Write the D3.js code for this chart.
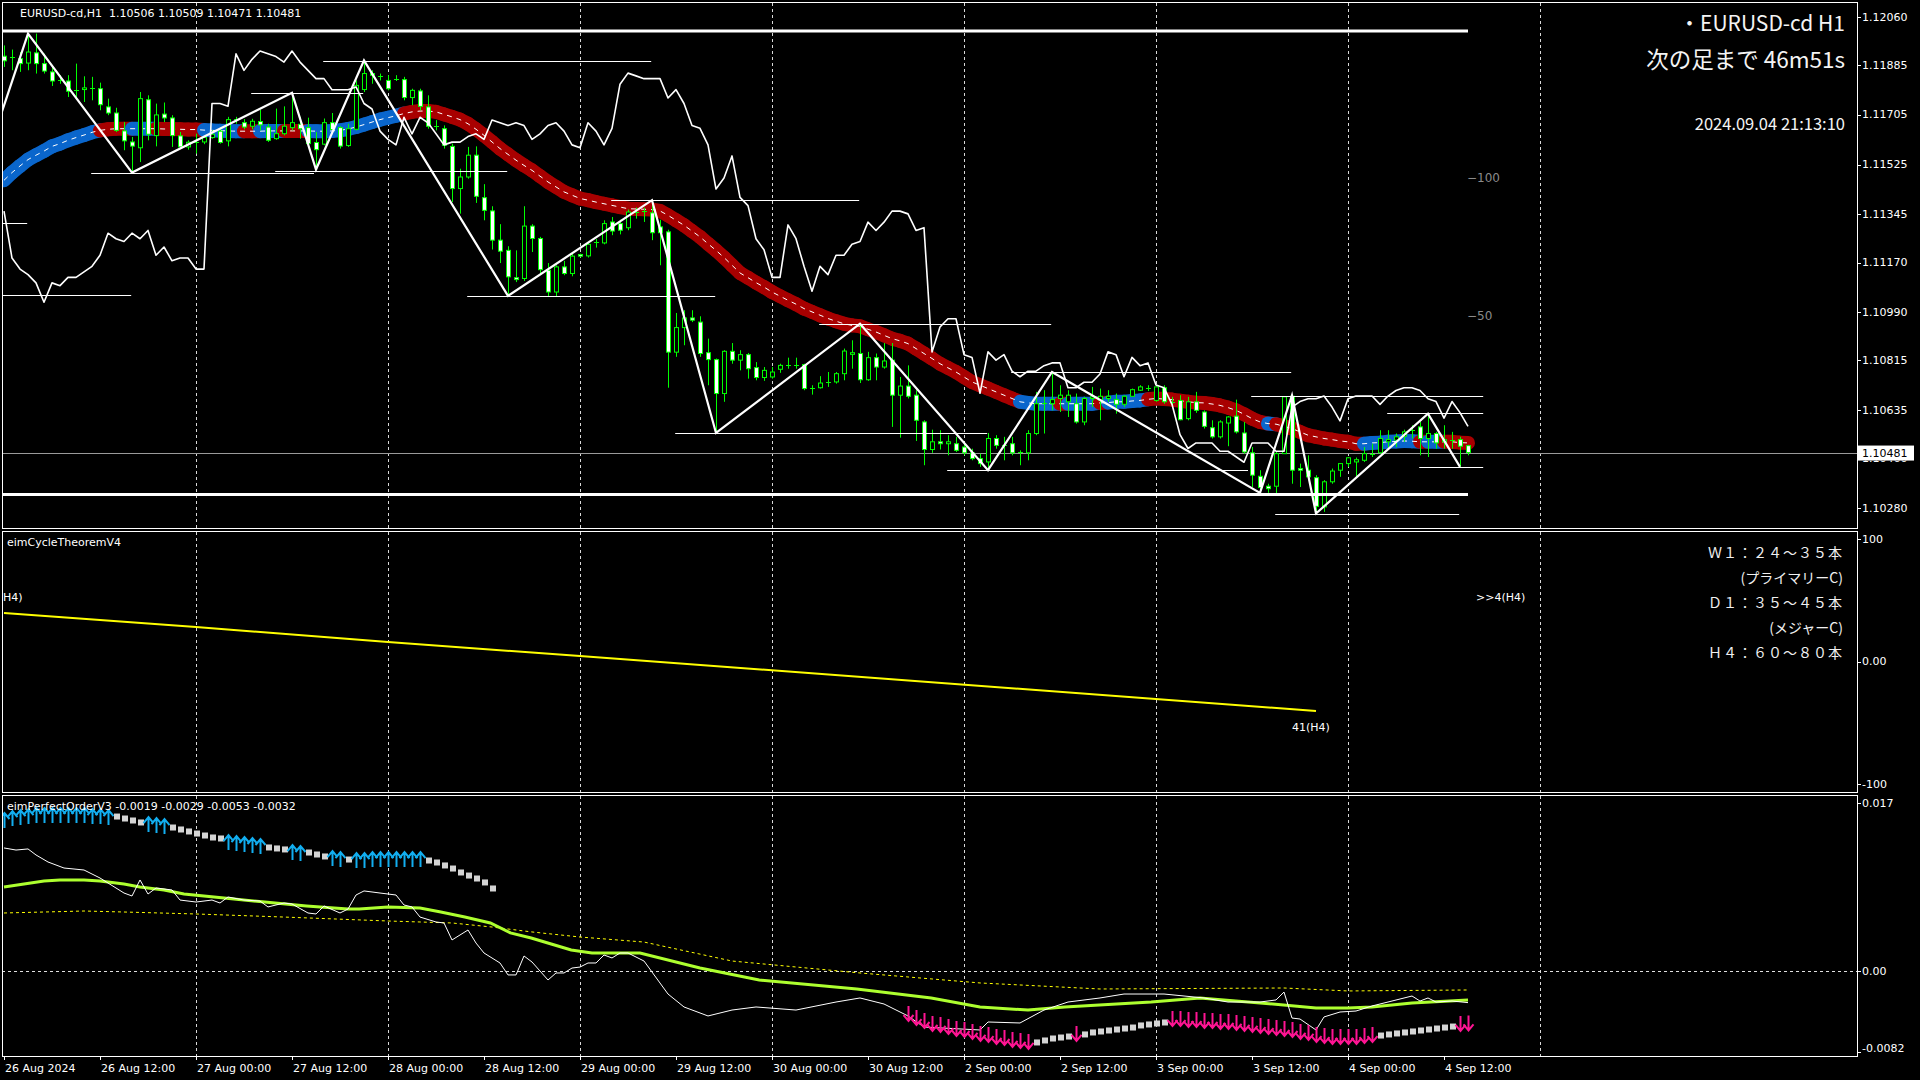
<!DOCTYPE html>
<html><head><meta charset="utf-8">
<script src="https://cdn.jsdelivr.net/npm/d3@7"></script>
<style>body{margin:0;background:#000;overflow:hidden}svg{display:block}</style>
</head><body>
<svg id="c" width="1920" height="1080"></svg>
<script>
// ---------------- DATA ----------------
const headerText = "EURUSD-cd,H1  1.10506 1.10509 1.10471 1.10481";
const priceTicks = [1.12060,1.11885,1.11705,1.11525,1.11345,1.11170,1.10990,1.10815,1.10635,1.10460,1.10280];
const lastPrice = 1.10481;
const timeLabels = [[0,"26 Aug 2024"],[12,"26 Aug 12:00"],[24,"27 Aug 00:00"],[36,"27 Aug 12:00"],[48,"28 Aug 00:00"],[60,"28 Aug 12:00"],[72,"29 Aug 00:00"],[84,"29 Aug 12:00"],[96,"30 Aug 00:00"],[108,"30 Aug 12:00"],[120,"2 Sep 00:00"],[132,"2 Sep 12:00"],[144,"3 Sep 00:00"],[156,"3 Sep 12:00"],[168,"4 Sep 00:00"],[180,"4 Sep 12:00"]];
const gridBars = [24,48,72,96,120,144,168,192];

const open = [1.11918,1.11915,1.11909,1.11893,1.11930,1.11891,1.11861,1.11830,1.11828,1.11792,
1.11797,1.11803,1.11800,1.11734,1.11712,1.11647,1.11607,1.11586,1.11760,1.11630,
1.11708,1.11694,1.11629,1.11589,1.11606,1.11607,1.11623,1.11646,1.11611,1.11688,
1.11677,1.11664,1.11681,1.11661,1.11619,1.11637,1.11659,1.11671,1.11659,1.11605,
1.11599,1.11677,1.11659,1.11594,1.11653,1.11797,1.11855,1.11845,1.11830,1.11835,
1.11833,1.11768,1.11792,1.11734,1.11664,1.11655,1.11591,1.11438,1.11480,1.11559,
1.11405,1.11357,1.11251,1.11214,1.11115,1.11112,1.11302,1.11257,1.11142,1.11063,
1.11154,1.11130,1.11199,1.11194,1.11241,1.11241,1.11317,1.11311,1.11296,1.11353,
1.11353,1.11350,1.11299,1.11281,1.10845,1.10934,1.10969,1.10954,1.10843,1.10818,
1.10695,1.10848,1.10816,1.10836,1.10789,1.10753,1.10755,1.10783,1.10797,1.10797,
1.10800,1.10713,1.10716,1.10733,1.10737,1.10767,1.10837,1.10840,1.10745,1.10825,
1.10791,1.10816,1.10689,1.10722,1.10689,1.10592,1.10492,1.10520,1.10513,1.10513,
1.10501,1.10480,1.10459,1.10447,1.10532,1.10507,1.10513,1.10483,1.10480,1.10550,
1.10658,1.10658,1.10677,1.10665,1.10658,1.10592,1.10677,1.10671,1.10677,1.10673,
1.10656,1.10685,1.10707,1.10715,1.10670,1.10716,1.10665,1.10670,1.10604,1.10665,
1.10628,1.10571,1.10538,1.10588,1.10613,1.10552,1.10480,1.10395,1.10359,1.10359,
1.10477,1.10685,1.10423,1.10417,1.10390,1.10284,1.10375,1.10417,1.10441,1.10447,
1.10453,1.10477,1.10480,1.10520,1.10526,1.10540,1.10559,1.10574,1.10532,1.10550,
1.10520,1.10528,1.10528,1.10506];
const high = [1.11957,1.11942,1.11933,1.12000,1.12000,1.11927,1.11885,1.11849,1.11849,1.11891,
1.11845,1.11843,1.11822,1.11764,1.11731,1.11679,1.11625,1.11788,1.11776,1.11746,
1.11750,1.11704,1.11643,1.11613,1.11637,1.11631,1.11649,1.11661,1.11698,1.11698,
1.11690,1.11691,1.11724,1.11673,1.11728,1.11736,1.11785,1.11698,1.11695,1.11643,
1.11692,1.11712,1.11664,1.11673,1.11830,1.11903,1.11867,1.11855,1.11849,1.11849,
1.11843,1.11800,1.11800,1.11776,1.11686,1.11667,1.11601,1.11510,1.11589,1.11591,
1.11454,1.11374,1.11309,1.11229,1.11214,1.11374,1.11309,1.11263,1.11168,1.11160,
1.11176,1.11202,1.11202,1.11241,1.11255,1.11323,1.11335,1.11325,1.11362,1.11369,
1.11369,1.11396,1.11325,1.11289,1.10987,1.10997,1.10997,1.10975,1.10894,1.10822,
1.10852,1.10878,1.10852,1.10842,1.10809,1.10791,1.10791,1.10803,1.10825,1.10825,
1.10803,1.10725,1.10758,1.10773,1.10773,1.10858,1.10888,1.10948,1.10846,1.10840,
1.10878,1.10878,1.10755,1.10797,1.10707,1.10598,1.10564,1.10562,1.10544,1.10538,
1.10513,1.10495,1.10477,1.10552,1.10544,1.10538,1.10538,1.10489,1.10562,1.10701,
1.10707,1.10773,1.10725,1.10707,1.10695,1.10683,1.10719,1.10713,1.10707,1.10695,
1.10689,1.10713,1.10725,1.10725,1.10721,1.10725,1.10683,1.10689,1.10683,1.10701,
1.10634,1.10598,1.10598,1.10613,1.10673,1.10592,1.10501,1.10417,1.10368,1.10483,
1.10685,1.10689,1.10441,1.10471,1.10399,1.10381,1.10423,1.10443,1.10465,1.10463,
1.10501,1.10513,1.10562,1.10562,1.10550,1.10564,1.10580,1.10592,1.10622,1.10556,
1.10580,1.10556,1.10538,1.10509];
const low = [1.11879,1.11867,1.11861,1.11867,1.11855,1.11855,1.11810,1.11818,1.11770,1.11764,
1.11752,1.11758,1.11722,1.11704,1.11643,1.11577,1.11496,1.11534,1.11613,1.11591,
1.11679,1.11589,1.11583,1.11579,1.11565,1.11599,1.11619,1.11601,1.11591,1.11673,
1.11653,1.11653,1.11649,1.11607,1.11615,1.11631,1.11649,1.11619,1.11589,1.11507,
1.11595,1.11637,1.11583,1.11589,1.11649,1.11788,1.11818,1.11830,1.11794,1.11828,
1.11758,1.11740,1.11722,1.11655,1.11649,1.11583,1.11389,1.11347,1.11474,1.11386,
1.11323,1.11217,1.11168,1.11049,1.11099,1.11103,1.11208,1.11130,1.11045,1.11045,
1.11124,1.11120,1.11188,1.11188,1.11224,1.11236,1.11269,1.11272,1.11287,1.11329,
1.11317,1.11251,1.11160,1.10716,1.10828,1.10870,1.10954,1.10828,1.10725,1.10552,
1.10665,1.10803,1.10779,1.10749,1.10743,1.10741,1.10749,1.10770,1.10785,1.10785,
1.10707,1.10691,1.10713,1.10719,1.10731,1.10743,1.10785,1.10733,1.10741,1.10743,
1.10785,1.10574,1.10535,1.10677,1.10523,1.10435,1.10480,1.10492,1.10471,1.10483,
1.10471,1.10453,1.10429,1.10417,1.10495,1.10453,1.10471,1.10435,1.10453,1.10544,
1.10550,1.10634,1.10628,1.10610,1.10586,1.10580,1.10646,1.10598,1.10665,1.10622,
1.10646,1.10683,1.10704,1.10704,1.10665,1.10658,1.10652,1.10598,1.10598,1.10625,
1.10568,1.10532,1.10532,1.10504,1.10550,1.10477,1.10356,1.10335,1.10335,1.10332,
1.10477,1.10368,1.10356,1.10381,1.10260,1.10266,1.10368,1.10393,1.10429,1.10395,
1.10447,1.10465,1.10477,1.10495,1.10501,1.10520,1.10532,1.10471,1.10465,1.10495,
1.10495,1.10495,1.10429,1.10471];
const close = [1.11901,1.11910,1.11891,1.11933,1.11891,1.11864,1.11828,1.11828,1.11791,1.11795,
1.11803,1.11802,1.11742,1.11712,1.11649,1.11611,1.11592,1.11764,1.11635,1.11705,
1.11694,1.11630,1.11589,1.11606,1.11607,1.11623,1.11635,1.11605,1.11688,1.11690,
1.11661,1.11682,1.11669,1.11613,1.11637,1.11664,1.11677,1.11655,1.11601,1.11579,
1.11677,1.11652,1.11592,1.11655,1.11812,1.11855,1.11849,1.11840,1.11800,1.11834,
1.11768,1.11794,1.11736,1.11664,1.11659,1.11595,1.11438,1.11480,1.11559,1.11410,
1.11359,1.11251,1.11211,1.11118,1.11108,1.11302,1.11257,1.11144,1.11063,1.11154,
1.11130,1.11193,1.11193,1.11236,1.11243,1.11311,1.11284,1.11287,1.11353,1.11352,
1.11355,1.11278,1.11278,1.10845,1.10934,1.10969,1.10961,1.10840,1.10818,1.10695,
1.10848,1.10816,1.10836,1.10785,1.10753,1.10779,1.10773,1.10797,1.10796,1.10800,
1.10713,1.10715,1.10733,1.10737,1.10767,1.10849,1.10843,1.10745,1.10825,1.10791,
1.10813,1.10689,1.10722,1.10685,1.10598,1.10492,1.10520,1.10513,1.10520,1.10489,
1.10480,1.10459,1.10441,1.10532,1.10507,1.10504,1.10480,1.10482,1.10550,1.10658,
1.10661,1.10673,1.10689,1.10689,1.10592,1.10677,1.10683,1.10685,1.10685,1.10656,
1.10685,1.10709,1.10719,1.10716,1.10719,1.10665,1.10664,1.10600,1.10665,1.10634,
1.10576,1.10538,1.10592,1.10610,1.10556,1.10483,1.10399,1.10354,1.10350,1.10477,
1.10683,1.10417,1.10417,1.10393,1.10286,1.10375,1.10414,1.10441,1.10462,1.10455,
1.10477,1.10476,1.10532,1.10528,1.10538,1.10556,1.10564,1.10532,1.10550,1.10516,
1.10528,1.10527,1.10504,1.10481];

// moving average band (centre values) and its trend colouring runs
const maValues = [1.11468,1.11496,1.11520,1.11543,1.11559,1.11574,1.11591,1.11601,1.11613,1.11623,
1.11632,1.11642,1.11649,1.11653,1.11655,1.11655,1.11655,1.11655,1.11655,1.11655,
1.11654,1.11654,1.11653,1.11652,1.11652,1.11650,1.11649,1.11648,1.11647,1.11646,
1.11646,1.11646,1.11646,1.11647,1.11647,1.11647,1.11647,1.11647,1.11647,1.11646,
1.11646,1.11647,1.11649,1.11654,1.11661,1.11670,1.11679,1.11688,1.11695,1.11702,
1.11710,1.11716,1.11719,1.11719,1.11716,1.11707,1.11698,1.11688,1.11673,1.11653,
1.11631,1.11607,1.11583,1.11562,1.11541,1.11522,1.11504,1.11483,1.11462,1.11444,
1.11426,1.11414,1.11402,1.11396,1.11389,1.11383,1.11377,1.11371,1.11365,1.11364,
1.11363,1.11362,1.11357,1.11341,1.11323,1.11305,1.11284,1.11263,1.11238,1.11214,
1.11188,1.11160,1.11132,1.11115,1.11097,1.11081,1.11063,1.11048,1.11033,1.11019,
1.11003,1.10991,1.10979,1.10967,1.10957,1.10948,1.10942,1.10939,1.10928,1.10918,
1.10906,1.10894,1.10886,1.10876,1.10858,1.10840,1.10822,1.10803,1.10788,1.10773,
1.10755,1.10737,1.10725,1.10713,1.10701,1.10689,1.10677,1.10665,1.10661,1.10658,
1.10658,1.10658,1.10658,1.10658,1.10658,1.10658,1.10658,1.10661,1.10662,1.10665,
1.10665,1.10668,1.10670,1.10674,1.10677,1.10675,1.10673,1.10669,1.10665,1.10662,
1.10661,1.10657,1.10652,1.10644,1.10634,1.10620,1.10604,1.10592,1.10586,1.10584,
1.10576,1.10568,1.10556,1.10544,1.10538,1.10532,1.10528,1.10523,1.10520,1.10513,
1.10513,1.10516,1.10517,1.10520,1.10521,1.10523,1.10522,1.10520,1.10520,1.10520,
1.10520,1.10520,1.10517,1.10516];
const maTrendRuns = [[0,12,"up"],[13,16,"down"],[17,19,"up"],[20,25,"down"],[26,30,"up"],[31,32,"down"],[33,35,"up"],[36,38,"down"],[39,50,"up"],[51,127,"down"],[128,132,"up"],[133,133,"down"],[134,137,"up"],[138,138,"down"],[139,143,"up"],[144,158,"down"],[159,159,"up"],[160,170,"down"],[171,177,"up"],[178,178,"down"],[179,180,"up"],[181,183,"down"]];

// white oscillator drawn on the price pane (own scale, levels 50 / 100)
const oscValues = [88,71,67,65,62,55,62,61,64,64,66,68,72,80,78,77,80,78,81,72,
75,70,71,71,67,67,127,127,126,145,139,143,146,145,144,142,146,142,139,136,
136,132,132,132,133,127,125,117,114,112,122,116,122,120,116,112,113,113,115,116,
114,121,120,119,120,119,114,116,119,120,117,112,111,120,117,112,118,134,138,137,
136,136,136,129,132,127,119,118,112,96,100,108,93,90,78,74,64,64,83,78,
68,59,68,65,72,72,76,77,84,81,84,88,88,87,81,82,37,46,49,49,
36,35,22,37,34,36,30,28,30,30,32,33,33,24,24,26,26,29,37,36,
28,35,32,33,25,24,18,7,2,4,4,4,1,1,-1,-3,4,4,4,1,
1,17,19,20,20,21,17,12,20,21,21,21,18,21,23,24,24,23,20,19,13,19,15,10];
const oscLevels = [[100,"\u2212100"],[50,"\u221250"]];

// zigzag vertices [bar, price]
const zigzag = [[-1,1.11652],[3,1.12000],[16,1.11496],[36,1.11785],[39,1.11507],[45,1.11903],[63,1.11049],[81,1.11396],[89,1.10552],[107,1.10948],[123,1.10417],[131,1.10773],[157,1.10335],[161,1.10689],[164,1.10260],[178,1.10622],[182,1.10429]];
// thin horizontal levels [fromBar, toBar, price]
const levels = [[10.9,38.75,1.11496],[33.9,62.9,1.11502],[30.9,44.9,1.11785],[39.9,80.9,1.11900],[-0.3,2.9,1.11315],[-0.3,15.9,1.11051],[57.9,88.9,1.11047],[75.9,106.9,1.11398],[83.9,122.9,1.10553],[101.9,130.9,1.10948],[117.9,155.5,1.10416],[125.9,160.9,1.10772],[155.9,184.9,1.10687],[172.9,184.9,1.10625],[176.9,184.9,1.10427],[158.9,181.9,1.10259]];
// thick range lines
const rangeLines = [1.12009,1.10329];

// cycle pane
const cycleLine = [[0,39.6],[24,28.2],[48,15.9],[72,4.5],[164,-40.4]];
const cycleTicks = [[100,"100"],[0,"0.00"],[-100,"-100"]];
const cycleNotes = ["Ｗ１：２４～３５本","(プライマリーC)","Ｄ１：３５～４５本","(メジャーC)","Ｈ４：６０～８０本"];

// perfect order pane
const poTitle = "eimPerfectOrderV3 -0.0019 -0.0029 -0.0053 -0.0032";
const poTicks = [[0.017,"0.017"],[0,"0.00"],[-0.0082,"-0.0082"]];
const markerSeg1Start = 0;
const markerSeg1 = [0.01528,0.01548,0.01558,0.01568,0.01579,0.01579,0.01579,0.01579,0.01579,0.01579,0.01579,0.01568,0.01568,0.01558,
0.01568,0.01548,0.01528,0.01508,0.01487,0.01477,0.01467,
0.01457,0.01437,0.01417,0.01396,0.01376,0.01356,0.01346,
0.01305,0.01295,0.01285,0.01275,0.01265,0.01255,0.01245,0.01235,
0.01204,0.01194,0.01204,0.01184,0.01164,0.01143,0.01133,0.01133,
0.01123,0.01123,0.01133,0.01133,0.01133,0.01133,0.01133,0.01133,0.01133,
0.01123,0.01103,0.01073,0.01042,0.01002,0.00971,0.00941,0.00901,0.0084];
const markerSeg2Start = 113;
const markerSeg2 = [-0.00435,-0.00476,-0.00506,-0.00536,-0.00546,-0.00567,-0.00587,-0.00597,-0.00617,-0.00637,-0.00648,-0.00668,-0.00678,-0.00698,-0.00708,-0.00718,
-0.00718,-0.00698,-0.00678,-0.00668,-0.00658,-0.00637,
-0.00637,-0.00617,-0.00607,-0.00597,-0.00587,-0.00577,-0.00567,-0.00546,-0.00536,-0.00526,-0.00516,
-0.00486,-0.00486,-0.00496,-0.00496,-0.00506,-0.00506,-0.00516,-0.00516,-0.00526,-0.00536,-0.00546,-0.00557,-0.00567,-0.00577,-0.00587,-0.00597,-0.00617,-0.00627,-0.00648,-0.00658,-0.00668,-0.00668,-0.00668,-0.00668,-0.00658,-0.00648,
-0.00648,-0.00637,-0.00627,-0.00617,-0.00607,-0.00597,-0.00587,-0.00577,-0.00567,-0.00557,
-0.00536,-0.0053];
const markerRuns = [[0,13,"up"],[14,17,"sq"],[18,20,"up"],[21,27,"sq"],[28,32,"up"],[33,35,"sq"],[36,37,"up"],[38,40,"sq"],[41,42,"up"],[43,43,"sq"],[44,52,"up"],[53,61,"sq"],[113,128,"dn"],[129,133,"sq"],[134,134,"dn"],[135,145,"sq"],[146,171,"dn"],[172,181,"sq"],[182,183,"dn"]];
const poWhite = [[0,0.01245],[1.5,0.01224],[3,0.01235],[4,0.01174],[5.5,0.01103],[7.5,0.01042],[10,0.01022],[12,0.00941],[15,0.00789],[16,0.00759],[17,0.00921],[18,0.00779],[19,0.0084],[21,0.0082],[22,0.00718],[24,0.00698],[26,0.00718],[27,0.00688],[28,0.00749],[30,0.00718],[32,0.00708],[33,0.00648],[35,0.00688],[36,0.00678],[38,0.00587],[39,0.00577],[40,0.00658],[42,0.00587],[43,0.00627],[44,0.00769],[45,0.0081],[47,0.00789],[49,0.00769],[50,0.00668],[51,0.00648],[52,0.00546],[54,0.00496],[55,0.00486],[56,0.00314],[58,0.00415],[59,0.00283],[60,0.00182],[62,0.00081],[63,-0.0004],[64,-0.0004],[65,0.00152],[66,0.00091],[68,-0.00091],[69,-0.0002],[70,-0.0002],[71,0.0003],[72,0.0004],[73,0.00081],[74,0.00081],[75,0.00162],[76,0.00132],[77,0.00182],[78,0.00182],[80,0.00101],[83,-0.00233],[85,-0.00364],[88,-0.00455],[91,-0.00395],[94,-0.00364],[99,-0.00395],[104,-0.00314],[107,-0.00273],[110,-0.00334],[113,-0.00455],[115,-0.00567],[122,-0.00597],[123,-0.00516],[127,-0.00526],[130,-0.00395],[133,-0.00314],[137,-0.00273],[140,-0.00233],[145,-0.00233],[150,-0.00273],[153,-0.00314],[157,-0.00314],[159,-0.00293],[160,-0.00213],[161,-0.00476],[162,-0.00486],[164,-0.00597],[165,-0.00465],[167,-0.00415],[169,-0.00405],[171,-0.00354],[173,-0.00314],[176,-0.00253],[177,-0.00304],[178,-0.00273],[179,-0.00314],[181,-0.00304],[183,-0.0032]];
const poGreen = [[0,0.0085],[5,0.00911],[7,0.00921],[10,0.00921],[12,0.00911],[15,0.0088],[17,0.0085],[20,0.0082],[22.5,0.00779],[27.5,0.00739],[32.6,0.00698],[37.8,0.00658],[43,0.00627],[44.4,0.00627],[48,0.00648],[52,0.00637],[54.6,0.00597],[57.6,0.00546],[60.8,0.00486],[63.3,0.00385],[65.9,0.00334],[68.4,0.00273],[70.9,0.00213],[73.5,0.00182],[79.5,0.00182],[87,0.0003],[94.4,-0.00091],[106.6,-0.00182],[115.9,-0.00273],[122,-0.00364],[128,-0.00395],[132.6,-0.00364],[143.4,-0.00314],[149.5,-0.00273],[158.6,-0.00334],[164,-0.00374],[168,-0.00374],[171,-0.00364],[176,-0.00324],[183,-0.00294]];
const poYellow = [[0,0.00587],[10,0.00607],[15,0.00597],[24,0.00577],[35,0.00546],[48,0.00506],[56,0.00486],[61,0.00445],[66,0.00395],[72,0.00344],[80,0.00293],[91,0.00101],[107,-0.0002],[122,-0.00121],[137,-0.00182],[160,-0.00172],[168,-0.00202],[183,-0.00192]];

// ---------------- LAYOUT ----------------
const svg = d3.select("#c");
const FONT = "'DejaVu Sans', Verdana, sans-serif";
const JP = "'Noto Sans CJK JP', 'Noto Sans', sans-serif";
const L = 2, R = 1857;
const panes = {top:[2,528], mid:[531,792], bot:[795,1056]};

const x = d3.scaleLinear().domain([0,183]).range([4,1468]);
const yP = d3.scaleLinear().domain([1.10280,1.12060]).range([508,17]);
const yO = d3.scaleLinear().domain([50,100]).range([316,178]);
const yC = d3.scaleLinear().domain([-100,100]).range([784,539]);
const yB = d3.scaleLinear().domain([0,0.017]).range([971,803]);

svg.append("rect").attr("width",1920).attr("height",1080).attr("fill","#000");
const defs = svg.append("defs");
Object.entries(panes).forEach(([k,[a,b]])=>{
  defs.append("clipPath").attr("id","clip-"+k).append("rect")
    .attr("x",L+1).attr("y",a+1).attr("width",R-L-1).attr("height",b-a-1);
});
// region of the 1.10460 axis label left visible below the current-price box
defs.append("clipPath").attr("id","clip-under-box").append("rect")
  .attr("x",R).attr("y",yP(lastPrice)+8).attr("width",63).attr("height",20);

// grid
Object.entries(panes).forEach(([k,[a,b]])=>{
  svg.append("g").selectAll("line").data(gridBars).join("line")
    .attr("x1",d=>x(d)+0.5).attr("x2",d=>x(d)+0.5).attr("y1",a+1).attr("y2",b)
    .attr("stroke","#d8d8d8").attr("stroke-width",1).attr("stroke-dasharray","3,3");
});

// ---------- TOP PANE ----------
const gT = svg.append("g").attr("clip-path","url(#clip-top)");
gT.append("line").attr("x1",L).attr("x2",R).attr("y1",Math.round(yP(lastPrice))+0.5).attr("y2",Math.round(yP(lastPrice))+0.5)
  .attr("stroke","#9a9a9a").attr("stroke-width",1);

// MA band
const maColor = new Array(maValues.length);
maTrendRuns.forEach(([s,e,t])=>{for(let i=s;i<=e;i++) maColor[i]= t==="up" ? "#0a66cc" : "#a80000";});
const gMA = gT.append("g");
for(let i=0;i<maValues.length-1;i++){
  gMA.append("line").attr("x1",x(i)).attr("y1",yP(maValues[i])).attr("x2",x(i+1)).attr("y2",yP(maValues[i+1]))
    .attr("stroke",maColor[i+1]).attr("stroke-width",14).attr("stroke-linecap","round");
}
gT.append("path").datum(maValues).attr("fill","none").attr("stroke","#fff").attr("stroke-width",1)
  .attr("stroke-dasharray","5,5")
  .attr("d",d3.line().x((d,i)=>x(i)).y(d=>yP(d)));

// candles
const gC = gT.append("g");
open.forEach((o,i)=>{
  const c=close[i], cx=x(i);
  gC.append("line").attr("x1",cx+0.5).attr("x2",cx+0.5).attr("y1",yP(high[i])).attr("y2",yP(low[i]))
    .attr("stroke","#00ff00").attr("stroke-width",1);
  const top=yP(Math.max(o,c)), bot=yP(Math.min(o,c));
  if(bot-top<1.5){
    gC.append("line").attr("x1",cx-2).attr("x2",cx+3).attr("y1",Math.round(top)+0.5).attr("y2",Math.round(top)+0.5)
      .attr("stroke","#00ff00").attr("stroke-width",1);
  } else {
    gC.append("rect").attr("x",cx-1.5).attr("y",top).attr("width",4).attr("height",bot-top)
      .attr("fill", c<o ? "#ffffff" : "#000000").attr("stroke","#00ff00").attr("stroke-width",1);
  }
});

// thin levels
gT.append("g").selectAll("line").data(levels).join("line")
  .attr("x1",d=>x(d[0])).attr("x2",d=>x(d[1])).attr("y1",d=>Math.round(yP(d[2]))+0.5).attr("y2",d=>Math.round(yP(d[2]))+0.5)
  .attr("stroke","#fff").attr("stroke-width",1);

// oscillator
gT.append("path").datum(oscValues).attr("fill","none").attr("stroke","#fff").attr("stroke-width",1.6)
  .attr("stroke-linejoin","round")
  .attr("d",d3.line().x((d,i)=>x(i)).y(d=>yO(d)));

// zigzag
gT.append("path").datum(zigzag).attr("fill","none").attr("stroke","#fff").attr("stroke-width",2.2)
  .attr("d",d3.line().x(d=>x(d[0])).y(d=>yP(d[1])));

// thick range lines
gT.append("g").selectAll("line").data(rangeLines).join("line")
  .attr("x1",L).attr("x2",x(183)).attr("y1",d=>yP(d)).attr("y2",d=>yP(d))
  .attr("stroke","#fff").attr("stroke-width",3);

// osc level labels
svg.append("g").selectAll("text").data(oscLevels).join("text")
  .attr("x",1467).attr("y",d=>yO(d[0])).attr("dominant-baseline","central")
  .attr("fill","#8a8a8a").attr("font-family",FONT).attr("font-size",12).text(d=>d[1]);

// header
svg.append("text").attr("x",20).attr("y",13).attr("dominant-baseline","central").attr("fill","#fff")
  .attr("font-family",FONT).attr("font-size",11).style("white-space","pre").text(headerText);

// top-right info
const info = svg.append("g").attr("fill","#f4f4f4").attr("font-family",JP).attr("text-anchor","end");
info.append("text").attr("x",1845).attr("y",22).attr("dominant-baseline","central").attr("font-size",21).text("・EURUSD-cd H1");
info.append("text").attr("x",1845).attr("y",58).attr("dominant-baseline","central").attr("font-size",22.5).text("次の足まで 46m51s");
info.append("text").attr("x",1845).attr("y",123).attr("dominant-baseline","central").attr("font-size",16.5).text("2024.09.04 21:13:10");

// ---------- MIDDLE PANE ----------
const gM = svg.append("g").attr("clip-path","url(#clip-mid)");
gM.append("path").datum(cycleLine).attr("fill","none").attr("stroke","#ffff00").attr("stroke-width",2)
  .attr("d",d3.line().x(d=>x(d[0])).y(d=>yC(d[1])));
const mt = svg.append("g").attr("fill","#fff").attr("font-family",FONT).attr("font-size",11);
mt.append("text").attr("x",7).attr("y",542).attr("dominant-baseline","central").text("eimCycleTheoremV4");
mt.append("text").attr("x",3).attr("y",597).attr("dominant-baseline","central").text("H4)");
mt.append("text").attr("x",1476).attr("y",597).attr("dominant-baseline","central").text(">>4(H4)");
mt.append("text").attr("x",1292).attr("y",727).attr("dominant-baseline","central").text("41(H4)");
svg.append("g").selectAll("text").data(cycleNotes).join("text")
  .attr("x",1843).attr("y",(d,i)=>552+i*25).attr("text-anchor","end").attr("dominant-baseline","central")
  .attr("fill","#f0f0f0").attr("font-family",JP).attr("font-size",14).attr("letter-spacing",(d,i)=>i%2===0?1:0).text(d=>d);

// ---------- BOTTOM PANE ----------
const gB = svg.append("g").attr("clip-path","url(#clip-bot)");
gB.append("line").attr("x1",L).attr("x2",R).attr("y1",Math.round(yB(0))+0.5).attr("y2",Math.round(yB(0))+0.5)
  .attr("stroke","#e0e0e0").attr("stroke-dasharray","3,3");
gB.append("path").datum(poYellow).attr("fill","none").attr("stroke","#ffff00").attr("stroke-width",1)
  .attr("stroke-dasharray","3,3").attr("d",d3.line().x(d=>x(d[0])).y(d=>yB(d[1])));
gB.append("path").datum(poGreen).attr("fill","none").attr("stroke","#adff2f").attr("stroke-width",3)
  .attr("d",d3.line().x(d=>x(d[0])).y(d=>yB(d[1])));
gB.append("path").datum(poWhite).attr("fill","none").attr("stroke","#fff").attr("stroke-width",1)
  .attr("d",d3.line().x(d=>x(d[0])).y(d=>yB(d[1])));

const markerVal = i => {
  if(i>=markerSeg1Start && i<markerSeg1Start+markerSeg1.length) return markerSeg1[i-markerSeg1Start];
  if(i>=markerSeg2Start && i<markerSeg2Start+markerSeg2.length) return markerSeg2[i-markerSeg2Start];
  return null;
};
const gMk = gB.append("g");
markerRuns.forEach(([s,e,t])=>{
  for(let i=s;i<=e;i++){
    const v=markerVal(i); if(v===null) continue;
    const cx=x(i)+0.5, cy=yB(v);
    if(t==="sq"){
      gMk.append("rect").attr("x",cx-2.5).attr("y",cy-2.5).attr("width",6).attr("height",6).attr("fill","#d4d4d4");
    } else if(t==="up"){
      gMk.append("path").attr("d",`M${cx},${cy+8}L${cx},${cy-7}M${cx-5},${cy-1}L${cx},${cy-7}L${cx+5},${cy-1}`)
        .attr("fill","none").attr("stroke","#12aef0").attr("stroke-width",2);
    } else {
      gMk.append("path").attr("d",`M${cx},${cy-8}L${cx},${cy+7}M${cx-5},${cy+1}L${cx},${cy+7}L${cx+5},${cy+1}`)
        .attr("fill","none").attr("stroke","#ff1493").attr("stroke-width",2);
    }
  }
});
svg.append("text").attr("x",7).attr("y",806).attr("dominant-baseline","central").attr("fill","#fff")
  .attr("font-family",FONT).attr("font-size",11).text(poTitle);

// ---------- FRAMES ----------
Object.values(panes).forEach(([a,b])=>{
  svg.append("rect").attr("x",L+0.5).attr("y",a+0.5).attr("width",R-L).attr("height",b-a)
    .attr("fill","none").attr("stroke","#fff").attr("stroke-width",1);
});

// ---------- AXES ----------
const ax = svg.append("g").attr("fill","#fff").attr("font-family",FONT).attr("font-size",11);
function rightTicks(list, scale, clampLo, clampHi, hiddenUnderBox){
  list.forEach(([v,t])=>{
    const yy=scale(v);
    svg.append("line").attr("x1",R).attr("x2",R+4).attr("y1",Math.round(yy)+0.5).attr("y2",Math.round(yy)+0.5).attr("stroke","#fff");
    const tx = ax.append("text").attr("x",R+5).attr("y",Math.min(Math.max(yy,clampLo),clampHi)).attr("dominant-baseline","central").text(t);
    if(hiddenUnderBox && Math.abs(yy-hiddenUnderBox)<12) tx.attr("clip-path","url(#clip-under-box)");
  });
}
const py = yP(lastPrice);
rightTicks(priceTicks.map(p=>[p,p.toFixed(5)]), yP, 10, 520, py);
rightTicks(cycleTicks, yC, 539, 784);
rightTicks(poTicks, yB, 803, 1048);

// current price label
svg.append("rect").attr("x",R+1).attr("y",py-7).attr("width",56).attr("height",15).attr("fill","#fff");
svg.append("text").attr("x",R+5).attr("y",py+0.5).attr("dominant-baseline","central").attr("fill","#000")
  .attr("font-family",FONT).attr("font-size",11).text(lastPrice.toFixed(5));

// time axis
timeLabels.forEach(([b,t])=>{
  svg.append("line").attr("x1",x(b)+0.5).attr("x2",x(b)+0.5).attr("y1",1056).attr("y2",1060).attr("stroke","#fff");
  ax.append("text").attr("x",x(b)+1).attr("y",1068).attr("dominant-baseline","central").text(t);
});
</script>
</body></html>
